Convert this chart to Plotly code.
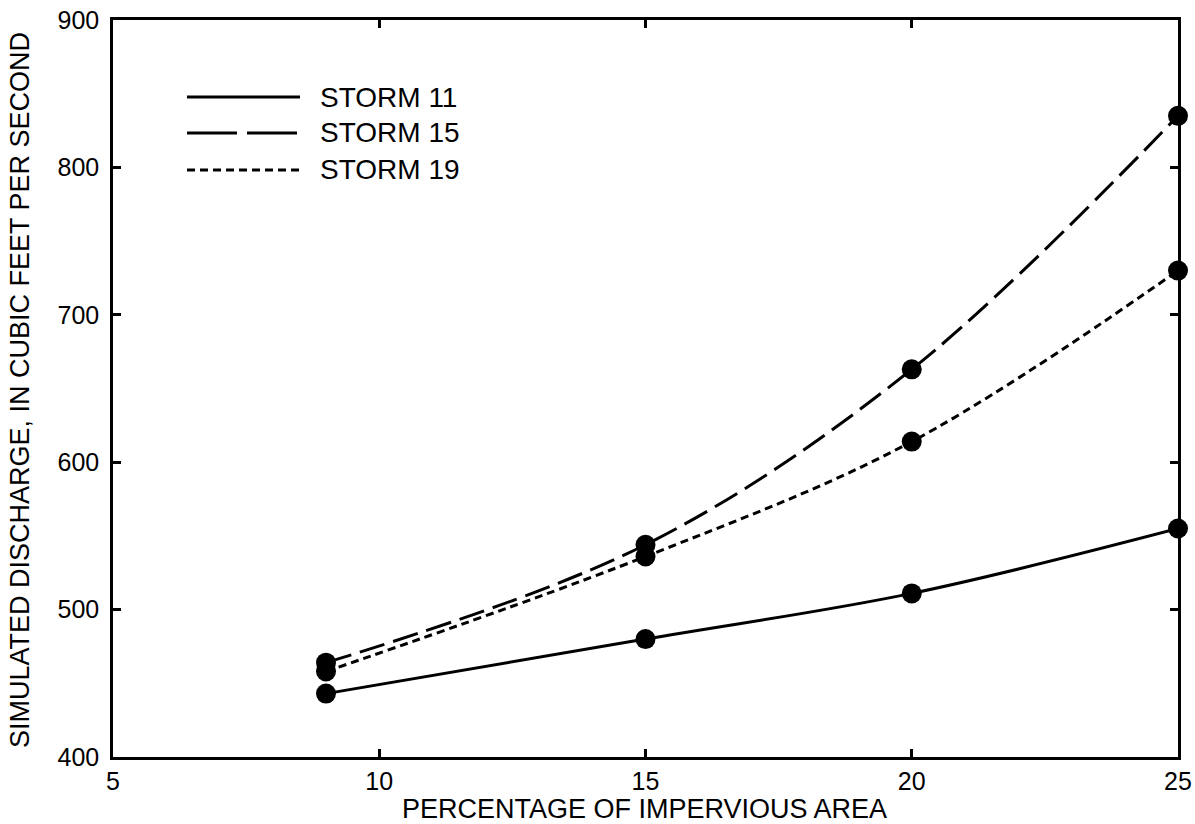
import plotly.graph_objects as go

impervious_pct = [9, 15, 20, 25]
storm_11 = [443, 480, 511, 555]
storm_15 = [464, 544, 663, 835]
storm_19 = [458, 536, 614, 730]

series_names = ["STORM 11", "STORM 15", "STORM 19"]
series_values = [storm_11, storm_15, storm_19]
dash_styles = ["solid", "26px,9px", "8px,5px"]
legend_dashes = ["solid", "50px,10px", "8px,5px"]

x_ticks = [5, 10, 15, 20, 25]
y_ticks = [400, 500, 600, 700, 800, 900]

x_title = "PERCENTAGE OF IMPERVIOUS AREA"
y_title = "SIMULATED DISCHARGE, IN CUBIC FEET PER SECOND"

FONT = "Liberation Sans, Arial, Helvetica, sans-serif"

fig = go.Figure()
for name, vals, dash in zip(series_names, series_values, dash_styles):
    fig.add_trace(go.Scatter(
        x=impervious_pct, y=vals, name=name, mode="lines+markers",
        line=dict(color="black", width=3, dash=dash, shape="spline", smoothing=1.0),
        marker=dict(color="black", size=20, symbol="circle"),
        showlegend=False, cliponaxis=False,
    ))

# custom legend (long sample lines like the original)
legend_y = [0.8955, 0.8467, 0.7965]
for name, ldash, ly in zip(series_names, legend_dashes, legend_y):
    fig.add_shape(type="line", xref="paper", yref="paper",
                  x0=0.0695, x1=0.1756, y0=ly, y1=ly,
                  line=dict(color="black", width=3, dash=ldash))
    fig.add_annotation(xref="paper", yref="paper", x=0.1925, y=ly,
                       text=name, showarrow=False, xanchor="left", yanchor="middle",
                       font=dict(family=FONT, size=28, color="black"))

# axis titles
fig.add_annotation(xref="paper", yref="paper", x=0.4995, y=-0.0705,
                   text=x_title, showarrow=False, xanchor="center", yanchor="middle",
                   font=dict(family=FONT, size=27, color="black"))
fig.add_annotation(xref="paper", yref="paper", x=-0.0873, y=0.498,
                   text=y_title, showarrow=False, xanchor="center", yanchor="middle",
                   textangle=-90,
                   font=dict(family=FONT, size=27, color="black"))

axis_common = dict(
    showline=True, linecolor="black", linewidth=2.5, mirror="ticks",
    ticks="inside", ticklen=8, tickwidth=2.5, tickcolor="black",
    showgrid=False, zeroline=False, automargin=False,
    tickfont=dict(family=FONT, size=25, color="black"),
)

fig.update_xaxes(
    range=[5, 25], tickvals=x_ticks, ticktext=[str(v) for v in x_ticks],
    ticklabelstandoff=0,
    **axis_common,
)
fig.update_yaxes(
    range=[400, 900], tickvals=y_ticks, ticktext=[str(v) for v in y_ticks],
    ticklabelstandoff=6,
    **axis_common,
)

fig.update_layout(
    width=1195, height=824,
    margin=dict(l=113, r=17, t=20, b=67),
    plot_bgcolor="white", paper_bgcolor="white",
)

fig.write_html("out.html")
